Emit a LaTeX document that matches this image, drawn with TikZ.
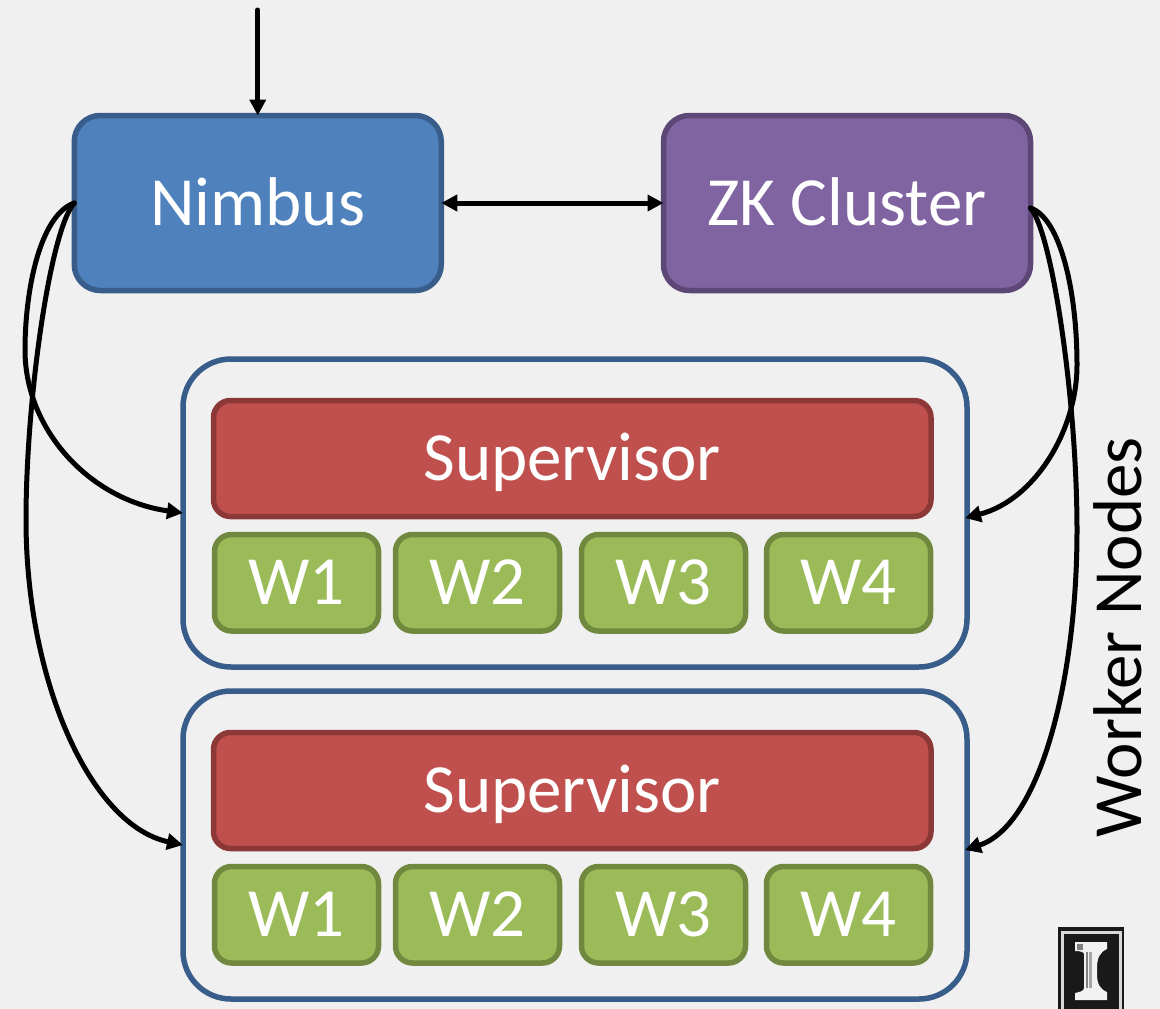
\documentclass[tikz,border=0pt]{standalone}
\usepackage{fontspec}
\setmainfont{Carlito}
\usetikzlibrary{arrows.meta}
\definecolor{bgc}{HTML}{F0F0F0}
\definecolor{blueF}{HTML}{4F81BD}
\definecolor{blueD}{HTML}{385D8A}
\definecolor{purF}{HTML}{8064A2}
\definecolor{purD}{HTML}{5C4776}
\definecolor{redF}{HTML}{C0504D}
\definecolor{redD}{HTML}{8C3836}
\definecolor{grnF}{HTML}{9BBB59}
\definecolor{grnD}{HTML}{71893F}
\tikzset{
  x=1pt,y=-1pt,
  every node/.style={outer sep=0pt,inner sep=0pt,text=white},
  bigtext/.style={font=\fontsize{69}{69}\selectfont,text height=44pt,text depth=0pt},
  bigbox/.style={bigtext,draw,line width=5.5pt,rounded corners=26pt,minimum width=367pt,minimum height=175pt},
  workerbox/.style={draw=blueD,line width=5.5pt,rounded corners=48pt,minimum width=784pt,minimum height=308pt},
  supbox/.style={bigtext,draw=redD,fill=redF,line width=5.5pt,rounded corners=17pt,minimum width=717.5pt,minimum height=116pt},
  wbox/.style={bigtext,draw=grnD,fill=grnF,line width=5.5pt,rounded corners=17pt,minimum width=164pt,minimum height=96.5pt},
  link/.style={draw=black,line width=5pt,line cap=round},
  tip/.style={-{Triangle[length=16pt,width=16pt]}},
  tips/.style={{Triangle[length=16pt,width=16pt]}-{Triangle[length=16pt,width=16pt]}},
}
\begin{document}
\begin{tikzpicture}
\path[use as bounding box,fill=bgc] (0,0) rectangle (1160,1009);
\node[bigbox,draw=blueD,fill=blueF] (nimbus) at (257.75,203) {Nimbus};
\node[bigbox,draw=purD,fill=purF] (zk) at (847,203) {ZK Cluster};
\foreach \n/\yy in {a/0,b/332}{
  \node[workerbox] (work\n) at (575,513+\yy) {};
  \node[supbox] (sup\n) at (572.25,458.5+\yy) {Supervisor};
  \node[wbox] (w1\n) at (296.5,582.75+\yy) {W1};
  \node[wbox] (w2\n) at (477.5,582.75+\yy) {W2};
  \node[wbox] (w3\n) at (663.5,582.75+\yy) {W3};
  \node[wbox] (w4\n) at (848.5,582.75+\yy) {W4};
}
\coordinate (top) at (257.75,10);
\coordinate (zs) at ([yshift=-5pt]zk.east);
\coordinate (ra) at ([xshift=-2pt,yshift=-5pt]worka.east);
\coordinate (rb) at ([xshift=-2pt,yshift=-5pt]workb.east);
\draw[link,tip] (top) -- (nimbus.north);
\draw[link,tips] (nimbus.east) -- (zk.west);
\draw[link,tip] (nimbus.west) .. controls (40,215) and (25,290) .. (25,350)
  .. controls (25,430) and (90,500) .. (worka.west);
\draw[link,tip] (nimbus.west) .. controls (50,230) and (26,400) .. (26,520)
  .. controls (26,680) and (90,825) .. (workb.west);
\draw[link,tip] (zs) .. controls (1060,218) and (1077,290) .. (1077,365)
  .. controls (1077,430) and (1035,500) .. (ra);
\draw[link,tip] (zs) .. controls (1052,232) and (1077,400) .. (1077,530)
  .. controls (1077,680) and (1040,825) .. (rb);
\node[text=black,rotate=90,bigtext] (label) at (1119,637.5) {Worker Nodes};
% logo
\fill[black!90] (1058,927) rectangle (1124,1009);
\draw[white!85!black,line width=2.5pt] (1062.5,1012) -- (1062.5,932.5) -- (1120.5,932.5) -- (1120.5,1012);
\fill[white!95!black] (1075,942) -- (1107,942) -- (1107,949)
  .. controls (1100,952) and (1097,958) .. (1097,968)
  -- (1097,974) .. controls (1097,984) and (1100,989) .. (1107,992)
  -- (1107,1000) -- (1075,1000) -- (1075,993)
  .. controls (1080,992) and (1084,991) .. (1084,988)
  -- (1084,954) .. controls (1084,952) and (1080,951) .. (1075,951) -- cycle;
\fill[gray] (1086,952) rectangle (1088,988);
\fill[gray!70] (1089,952) rectangle (1091.5,988);
\fill[gray] (1077,944) rectangle (1083,950);
\end{tikzpicture}
\end{document}
